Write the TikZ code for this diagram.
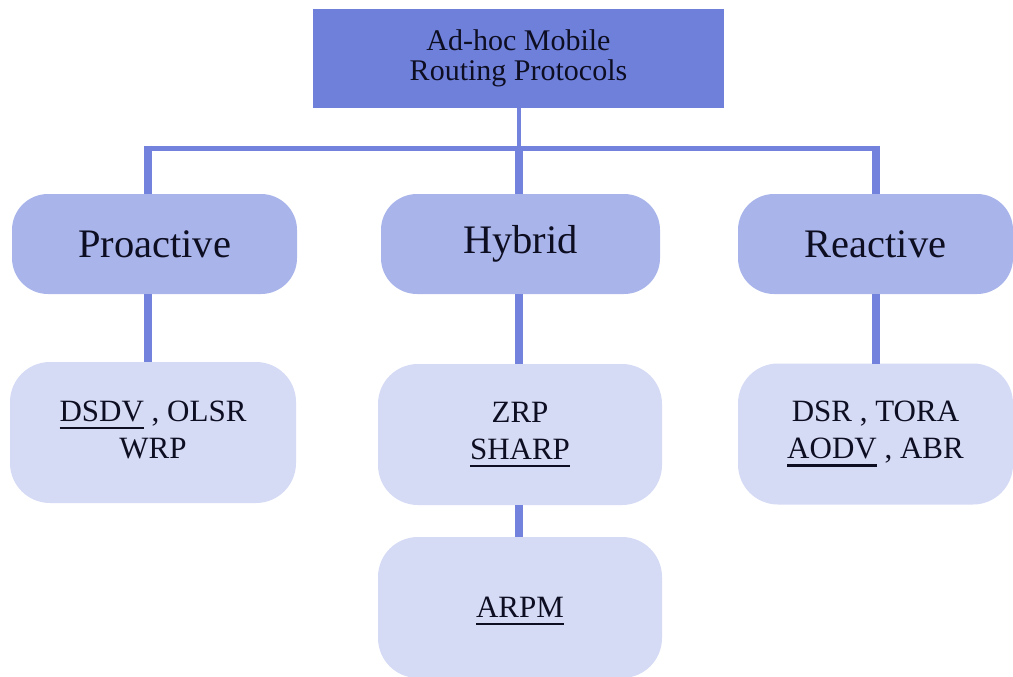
\documentclass[tikz,border=0pt]{standalone}
\usepackage{fontspec}
\setmainfont{Liberation Serif}

\definecolor{rootfill}{HTML}{6F80DB}
\definecolor{classfill}{HTML}{A9B4EA}
\definecolor{protofill}{HTML}{D5DAF5}
\definecolor{linkcol}{HTML}{7282DD}
\definecolor{ink}{HTML}{0E0E22}

% underlined protocol name with a thick rule
\newcommand\undl[1]{\leavevmode\vtop{\hbox{#1}\kern5pt\hrule height 2.5pt}}

\begin{document}
\begin{tikzpicture}[x=1pt,y=-1pt,
  every node/.style={inner sep=0pt, outer sep=0pt, text=ink, align=center},
  rootbox/.style={fill=rootfill, minimum width=411pt, minimum height=99pt,
                  font=\fontsize{30}{30}\selectfont},
  classbox/.style={fill=classfill, rounded corners=36pt, minimum height=100pt,
                   font=\fontsize{40.5}{48}\selectfont},
  protobox/.style={fill=protofill, rounded corners=40pt, minimum height=141pt,
                   font=\fontsize{31}{37}\selectfont},
  link/.style={draw=linkcol, line width=#1}]

\useasboundingbox (0,0) rectangle (1013,677);

% root
\node[rootbox] (root) at (518.5,58.5) {Ad-hoc Mobile\\Routing Protocols};

% protocol classes
\node[classbox, minimum width=285pt] (pro) at (154.5,244) {Proactive};
\node[classbox, minimum width=279pt] (hyb) at (520.5,244) {Hybrid};
\node[classbox, minimum width=275pt] (rea) at (875.5,244) {Reactive};

% protocol lists
\node[protobox, minimum width=286pt, text depth=6pt] (prol) at (153,432.5)
  {\undl{DSDV} , OLSR\\WRP};
\node[protobox, minimum width=284pt] (hybl) at (520,434.5)
  {ZRP\\\undl{SHARP}};
\node[protobox, minimum width=284pt, text depth=0pt] (hybl2) at (520,607.5)
  {\undl{ARPM}};
\node[protobox, minimum width=275pt] (real) at (875.5,434)
  {DSR , TORA\\\undl{AODV} , ABR};

% bus coordinates
\coordinate (busL) at (148,148);
\coordinate (busR) at (876,148);
\coordinate (busC) at (root.south |- busL);

% connectors
\draw[link=4pt] (root.south) -- (busC);
\draw[link=5pt] (busL) -- (busR);
\draw[link=8pt] ([yshift=2.5pt]busL) -- (pro.north -| busL);
\draw[link=8pt] (busC) -- (hyb.north -| busC);
\draw[link=8pt] ([yshift=2.5pt]busR) -- (rea.north -| busR);
\draw[link=8pt] (pro.south -| busL) -- (prol.north -| busL);
\draw[link=8pt] (hyb.south -| busC) -- (hybl.north -| busC);
\draw[link=8pt] (hybl.south -| busC) -- (hybl2.north -| busC);
\draw[link=8pt] (rea.south -| busR) -- (real.north -| busR);
\end{tikzpicture}
\end{document}
